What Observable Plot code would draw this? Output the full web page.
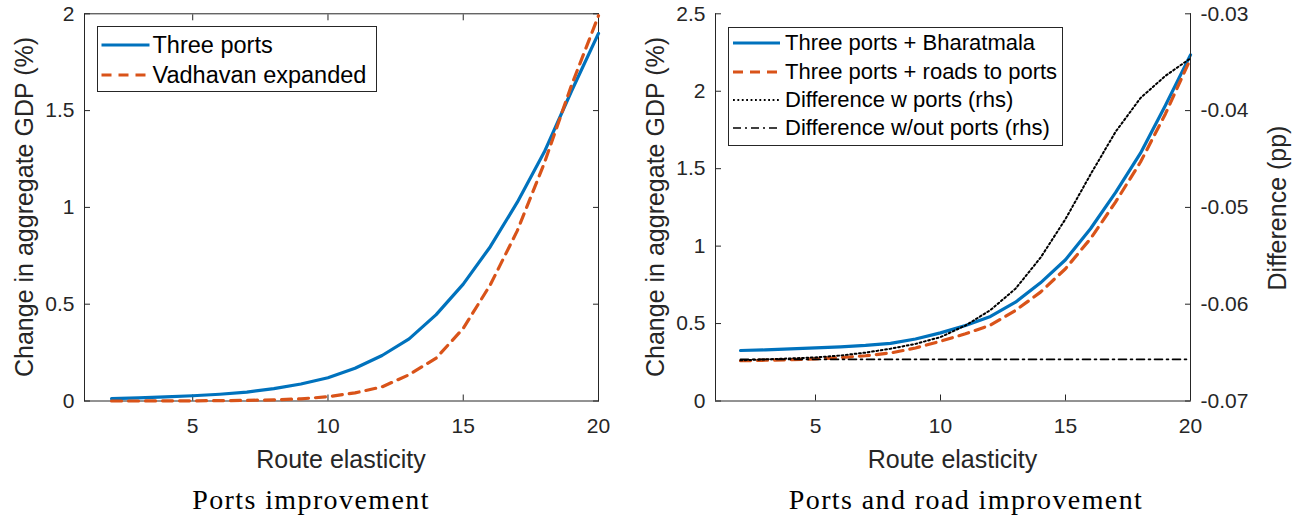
<!DOCTYPE html>
<html>
<head>
<meta charset="utf-8">
<script src="https://cdn.jsdelivr.net/npm/d3@7"></script>
<script src="https://cdn.jsdelivr.net/npm/@observablehq/plot@0.6"></script>
<style>
  body { margin: 0; background: #fff; }
  #fig { position: relative; width: 1309px; height: 517px; overflow: hidden;
         font-family: "Liberation Sans", Arial, sans-serif; color: #262626; }
  .panel { position: absolute; top: 0; }
  .ylab, .xlab { position: absolute; font-size: 25px; line-height: 25px; white-space: nowrap; color: #262626; }
  .ylab { transform: translate(-50%, -50%) rotate(-90deg); }
  .xlab { transform: translateX(-50%); }
  .cap { position: absolute; font-family: "Liberation Serif", "Times New Roman", serif; font-size: 28px;
         line-height: 28px; letter-spacing: 1.4px; white-space: nowrap; transform: translateX(-50%); color: #000; }
  .legend { position: absolute; background: #fff; border: 1px solid #262626; box-sizing: border-box; }
  .row { position: absolute; left: 0; height: 28px; display: flex; align-items: center; white-space: nowrap; color: #000; }
  .row svg { display: block; flex: none; }
</style>
</head>
<body>
<div id="fig"></div>
<script>
// Route elasticity grid
const elasticity = [2, 3, 4, 5, 6, 7, 8, 9, 10, 11, 12, 13, 14, 15, 16, 17, 18, 19, 20];

// Ports improvement: change in aggregate GDP (%)
const threePorts       = [0.012, 0.016, 0.021, 0.027, 0.035, 0.046, 0.064, 0.088, 0.120, 0.169, 0.235, 0.321, 0.446, 0.604, 0.797, 1.027, 1.287, 1.600, 1.899];
const vadhavanExpanded = [0.000, 0.000, 0.001, 0.001, 0.002, 0.003, 0.006, 0.011, 0.022, 0.042, 0.073, 0.136, 0.222, 0.375, 0.600, 0.880, 1.230, 1.630, 1.990];

// Ports and road improvement: change in aggregate GDP (%)
const portsBharatmala   = [0.326, 0.330, 0.336, 0.343, 0.350, 0.359, 0.372, 0.400, 0.440, 0.488, 0.546, 0.638, 0.763, 0.912, 1.112, 1.345, 1.600, 1.910, 2.235];
const portsRoadsToPorts = [0.260, 0.263, 0.267, 0.272, 0.280, 0.292, 0.310, 0.342, 0.386, 0.434, 0.490, 0.585, 0.703, 0.854, 1.048, 1.284, 1.543, 1.855, 2.210];

// Differences (pp), right-hand axis
const diffWithPorts    = [-0.0658, -0.0657, -0.0656, -0.0655, -0.0653, -0.0650, -0.0646, -0.0641, -0.0634, -0.0622, -0.0606, -0.0584, -0.0552, -0.0512, -0.0466, -0.0422, -0.0387, -0.0364, -0.0346];
const diffWithoutPorts = [-0.0657, -0.0657, -0.0657, -0.0657, -0.0657, -0.0657, -0.0657, -0.0657, -0.0657, -0.0657, -0.0657, -0.0657, -0.0657, -0.0657, -0.0657, -0.0657, -0.0657, -0.0657, -0.0657];

// Axes
const xDomain = [1, 20];
const xTicks = [5, 10, 15, 20];
const gdpTicksLeft = [0, 0.5, 1, 1.5, 2];
const gdpTicksRight = [0, 0.5, 1, 1.5, 2, 2.5];
const diffTicks = [-0.07, -0.06, -0.05, -0.04, -0.03];

// Text
const xLabel = "Route elasticity";
const gdpLabel = "Change in aggregate GDP (%)";
const diffLabel = "Difference (pp)";
const captions = ["Ports improvement", "Ports and road improvement"];
const legendLeft = ["Three ports", "Vadhavan expanded"];
const legendRight = ["Three ports + Bharatmala", "Three ports + roads to ports", "Difference w ports (rhs)", "Difference w/out ports (rhs)"];

const BLUE = "#0072BD", ORANGE = "#D95319", AXIS = "#262626";
const TICK = 6;
const fmt = d => String(d);
const baseStyle = { fontFamily: '"Liberation Sans", Arial, sans-serif', fontSize: "21px", color: AXIS, background: "transparent", overflow: "visible" };

const blueLine   = { stroke: BLUE, strokeWidth: 3.2, strokeLinejoin: "round" };
const orangeLine = { stroke: ORANGE, strokeWidth: 3.2, strokeDasharray: "10,7", strokeLinejoin: "round" };
const dotLine    = { stroke: "#000", strokeWidth: 2, strokeDasharray: "1.8,2.6" };
const dashDot    = { stroke: "#000", strokeWidth: 1.6, strokeDasharray: "8,4,2,4" };

// inward tick marks (no labels) and tick labels (no tick marks)
const ticksX = (ticks, anchor) => Plot.axisX(ticks, { anchor, tickSize: TICK, dy: anchor === "bottom" ? -TICK : TICK, fill: "none", stroke: AXIS, label: null });
const ticksY = (ticks, anchor) => Plot.axisY(ticks, { anchor, tickSize: TICK, dx: anchor === "left" ? TICK : -TICK, fill: "none", stroke: AXIS, label: null });
const labelsX = ticks => Plot.axisX(ticks, { anchor: "bottom", tickSize: 0, tickPadding: 17.5, tickFormat: fmt, fontSize: 21, fill: AXIS, label: null });
const labelsY = (ticks, anchor) => Plot.axisY(ticks, { anchor, tickSize: 0, tickPadding: 10, tickFormat: fmt, fontSize: 21, fill: AXIS, label: null });

const H = 440, MT = 13.3, MB = H - 400.5;
const fig = document.getElementById("fig");

// Left panel: ports improvement
const left = Plot.plot({
  width: 640, height: H, marginLeft: 84, marginRight: 42, marginTop: MT, marginBottom: MB,
  style: baseStyle,
  x: { domain: xDomain, axis: null, label: null },
  y: { domain: [0, 2], axis: null, label: null },
  marks: [
    Plot.frame({ stroke: AXIS, strokeWidth: 1 }),
    ticksX(xTicks, "bottom"), ticksX(xTicks, "top"),
    ticksY(gdpTicksLeft, "left"), ticksY(gdpTicksLeft, "right"),
    labelsX(xTicks), labelsY(gdpTicksLeft, "left"),
    Plot.lineY(threePorts, { x: elasticity, ...blueLine }),
    Plot.lineY(vadhavanExpanded, { x: elasticity, ...orangeLine })
  ]
});
left.classList.add("panel");
left.style.left = "0px";
fig.appendChild(left);

// Right panel: ports and road improvement (left-hand GDP axis)
const rightMain = Plot.plot({
  width: 669, height: H, marginLeft: 75, marginRight: 119, marginTop: MT, marginBottom: MB,
  style: baseStyle,
  x: { domain: xDomain, axis: null, label: null },
  y: { domain: [0, 2.5], axis: null, label: null },
  marks: [
    Plot.ruleX([xDomain[0]], { stroke: AXIS }),
    Plot.ruleY([0], { stroke: AXIS }),
    ticksX(xTicks, "bottom"),
    ticksY(gdpTicksRight, "left"),
    labelsX(xTicks), labelsY(gdpTicksRight, "left"),
    Plot.lineY(portsBharatmala, { x: elasticity, ...blueLine }),
    Plot.lineY(portsRoadsToPorts, { x: elasticity, ...orangeLine })
  ]
});
rightMain.classList.add("panel");
rightMain.style.left = "640px";
fig.appendChild(rightMain);

// Right panel: differences on the right-hand axis, drawn over the same frame
const rightDiff = Plot.plot({
  width: 669, height: H, marginLeft: 75, marginRight: 119, marginTop: MT, marginBottom: MB,
  style: baseStyle,
  x: { domain: xDomain, axis: null, label: null },
  y: { domain: [diffTicks[0], diffTicks[diffTicks.length - 1]], axis: null, label: null },
  marks: [
    Plot.ruleX([xDomain[1]], { stroke: AXIS }),
    ticksY(diffTicks, "right"),
    labelsY(diffTicks, "right"),
    Plot.lineY(diffWithPorts, { x: elasticity, ...dotLine }),
    Plot.lineY(diffWithoutPorts, { x: elasticity, ...dashDot })
  ]
});
rightDiff.classList.add("panel");
rightDiff.style.left = "640px";
fig.appendChild(rightDiff);

// Axis titles and captions
function addText(cls, text, x, y) {
  const d = document.createElement("div");
  d.className = cls;
  d.textContent = text;
  d.style.left = x + "px";
  d.style.top = y + "px";
  fig.appendChild(d);
}
addText("ylab", gdpLabel, 24, 207);
addText("ylab", gdpLabel, 655, 207);
addText("ylab", diffLabel, 1277, 208);
addText("xlab", xLabel, 341, 447);
addText("xlab", xLabel, 952.5, 447);
addText("cap", captions[0], 311, 486);
addText("cap", captions[1], 966, 486);

// Legends
function addLegend(box, items, rowCenters, sampleX, textX, fontSize) {
  const lg = document.createElement("div");
  lg.className = "legend";
  Object.assign(lg.style, { left: box.x + "px", top: box.y + "px", width: box.w + "px", height: box.h + "px" });
  items.forEach((it, i) => {
    const row = document.createElement("div");
    row.className = "row";
    row.style.top = (rowCenters[i] - box.y - 1 - 14) + "px";
    row.style.fontSize = fontSize + "px";
    const w = textX - box.x - 1;
    const ns = "http://www.w3.org/2000/svg";
    const svg = document.createElementNS(ns, "svg");
    svg.setAttribute("width", w);
    svg.setAttribute("height", 28);
    const ln = document.createElementNS(ns, "line");
    ln.setAttribute("x1", sampleX[0] - box.x - 1);
    ln.setAttribute("x2", sampleX[1] - box.x - 1);
    ln.setAttribute("y1", 14);
    ln.setAttribute("y2", 14);
    ln.setAttribute("stroke", it.style.stroke);
    ln.setAttribute("stroke-width", it.style.strokeWidth);
    if (it.style.strokeDasharray) ln.setAttribute("stroke-dasharray", it.style.strokeDasharray);
    svg.appendChild(ln);
    const span = document.createElement("span");
    span.textContent = it.label;
    row.appendChild(svg);
    row.appendChild(span);
    lg.appendChild(row);
  });
  fig.appendChild(lg);
}
addLegend({ x: 97, y: 26, w: 280, h: 66 },
  [{ label: legendLeft[0], style: blueLine }, { label: legendLeft[1], style: orangeLine }],
  [45, 75], [101.5, 149.5], 152.5, 23.5);
addLegend({ x: 728, y: 27, w: 335, h: 119 },
  [{ label: legendRight[0], style: blueLine }, { label: legendRight[1], style: orangeLine },
   { label: legendRight[2], style: dotLine }, { label: legendRight[3], style: dashDot }],
  [43.3, 71.7, 100, 128.3], [733, 780], 785, 22);
</script>
</body>
</html>
